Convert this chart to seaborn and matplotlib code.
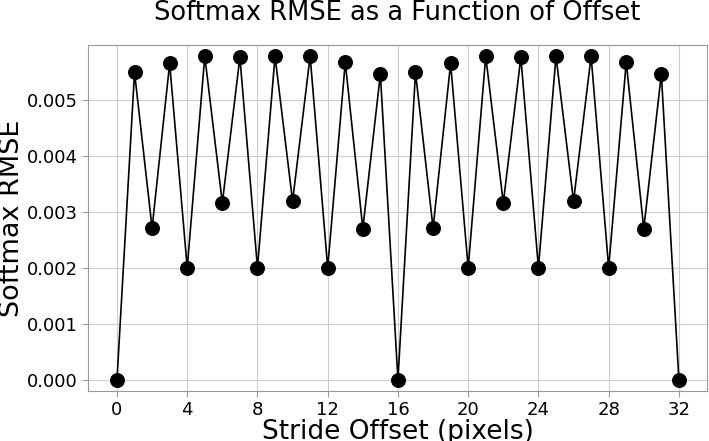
"""
Softmax RMSE against stride offset, redrawn with seaborn.
"""

import numpy as np
import pandas as pd
import matplotlib
matplotlib.use("Agg")
import matplotlib.pyplot as plt
import seaborn as sns

# offsets in pixels, 0..32
offsets = list(range(33))

# RMSE, one per offset
rmse = [
    0.0, 0.00549, 0.00271, 0.00565, 0.00200, 0.00578, 0.00316, 0.00576,
    0.00200, 0.00578, 0.00319, 0.00578, 0.00200, 0.00567, 0.00270, 0.00546,
    0.0, 0.00549, 0.00271, 0.00565, 0.00200, 0.00578, 0.00316, 0.00576,
    0.00200, 0.00578, 0.00319, 0.00578, 0.00200, 0.00567, 0.00270, 0.00546,
    0.0,
]

x_ticks = [0, 4, 8, 12, 16, 20, 24, 28, 32]

df = pd.DataFrame({"offset": offsets, "rmse": rmse})

sns.set_style("whitegrid", {
    "grid.color": "#cccccc",
    "axes.edgecolor": "#999999",
    "xtick.bottom": True,
    "ytick.left": True,
    "text.color": "black",
    "axes.labelcolor": "black",
    "xtick.color": "black",
    "ytick.color": "black",
})
plt.rcParams["font.family"] = ["DejaVu Sans"]

fig = plt.figure(figsize=(7.09, 4.41), dpi=100)
ax = fig.add_axes([88 / 709, 50 / 441, 619 / 709, 346 / 441])

sns.lineplot(
    data=df, x="offset", y="rmse", ax=ax,
    color="black", linewidth=1.2,
    marker="o", markersize=10, markeredgecolor="black",
)

ax.set_xticks(x_ticks)
ax.set_xlim(-1.65, 33.6)
ax.set_ylim(-0.0002, 0.00598)
ax.tick_params(labelsize=13, color="#999999", length=4)

ax.set_title("Softmax RMSE as a Function of Offset", fontsize=18.5, pad=18)
ax.set_xlabel("Stride Offset (pixels)", fontsize=19, labelpad=0)
ax.set_ylabel("Softmax RMSE", fontsize=19.5, labelpad=1)

fig.savefig("out.png", dpi=100)
plt.close(fig)
